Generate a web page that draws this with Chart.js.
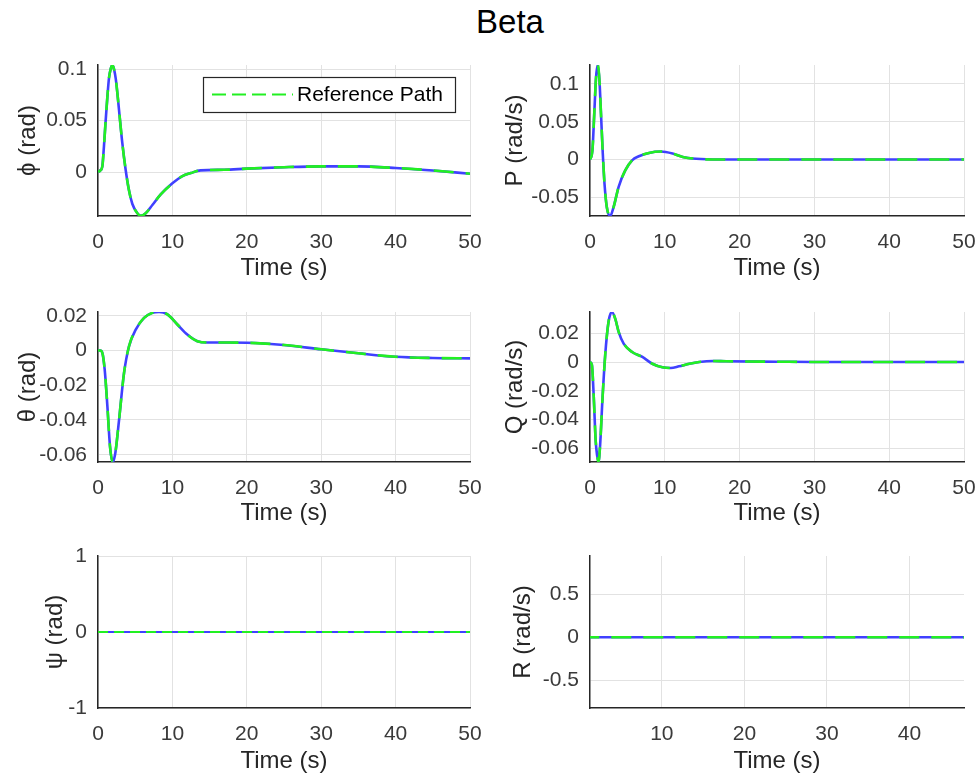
<!DOCTYPE html>
<html>
<head>
<meta charset="utf-8">
<title>Beta</title>
<script src="https://cdn.jsdelivr.net/npm/chart.js@4.4.0/dist/chart.umd.min.js"></script>
<style>
  body { margin: 0; background: #fff; }
  #page { position: relative; width: 980px; height: 780px; overflow: hidden; background: #fff;
          font-family: "Liberation Sans", Arial, sans-serif; }
  #title { position: absolute; left: 0; width: 1020px; top: 3px; text-align: center;
           font-size: 33px; color: #000; }
  canvas { position: absolute; }
</style>
</head>
<body>
<div id="page">
  <div id="title">Beta</div>
  <canvas id="phiChart"></canvas>
  <canvas id="pChart"></canvas>
  <canvas id="thetaChart"></canvas>
  <canvas id="qChart"></canvas>
  <canvas id="psiChart"></canvas>
  <canvas id="rChart"></canvas>
</div>
<script>
// --- data ---
const legendLabel = "Reference Path";
const timeTitle = "Time (s)";

const tPhi = [0, 0.3, 0.58, 0.8, 1.03, 1.25, 1.48, 1.7, 1.93, 2.15, 2.38, 2.6, 2.83, 3.27, 3.72, 4.17, 4.62, 5.29, 5.74, 6.41, 7.31, 8.43, 10, 11.35, 12.47, 13.8, 16.95, 20, 25, 30, 35, 40, 45, 50];
const phiRad = [0, 0.0015, 0.0054, 0.025, 0.05, 0.072, 0.0914, 0.1, 0.104, 0.1, 0.091, 0.077, 0.06, 0.028, 0.002, -0.018, -0.031, -0.04, -0.0425, -0.04, -0.032, -0.0217, -0.011, -0.004, -0.001, 0.0016, 0.0022, 0.0033, 0.0047, 0.0055, 0.0055, 0.004, 0.0015, -0.0016];

const tP = [0, 0.32, 0.59, 0.81, 1.04, 1.26, 1.49, 1.71, 1.94, 2.25, 2.7, 3.15, 3.83, 4.73, 5.63, 6.53, 7.88, 9.46, 11.04, 12.4, 14.2, 17.3, 20, 30, 40, 50];
const pRadS = [0, 0.012, 0.065, 0.109, 0.125, 0.105, 0.056, 0.008, -0.032, -0.063, -0.0746, -0.063, -0.036, -0.014, -0.001, 0.0044, 0.0088, 0.0106, 0.008, 0.0035, 0.001, 0, 0, 0, 0, 0];

const tTheta = [0, 0.3, 0.58, 0.9, 1.26, 1.61, 1.97, 2.33, 2.83, 3.5, 4.17, 5.07, 6.19, 7.31, 8.2, 9.33, 10.67, 12, 13.36, 14.7, 17.4, 20, 25, 30, 35, 40, 45, 50];
const thetaRad = [0, 0, -0.0013, -0.011, -0.032, -0.055, -0.0642, -0.059, -0.04, -0.0129, 0.0025, 0.012, 0.0188, 0.0217, 0.0222, 0.0208, 0.015, 0.0092, 0.0054, 0.0046, 0.0046, 0.0045, 0.0032, 0.0007, -0.0016, -0.0036, -0.0043, -0.0045];

const tQ = [0, 0.25, 0.5, 0.75, 0.95, 1.13, 1.35, 1.67, 2.03, 2.48, 2.93, 3.38, 3.83, 4.5, 5.63, 7, 8.33, 9.68, 10.8, 11.9, 13.3, 14.6, 16.4, 18.2, 25, 30, 40, 50];
const qRadS = [0, -0.002, -0.024, -0.054, -0.065, -0.0696, -0.058, -0.0256, 0.0047, 0.028, 0.0348, 0.03, 0.021, 0.0128, 0.007, 0.0035, -0.0012, -0.0037, -0.0042, -0.003, -0.0012, 0, 0.0007, 0.0005, 0.0002, 0, 0, 0];

const tPsi = [0, 10, 20, 30, 40, 50];
const psiRad = [0, 0, 0, 0, 0, 0];
const tR = [0, 10, 20, 30, 40, 50];
const rRadS = [0, 0, 0, 0, 0, 0];

const timeTicks = [0, 10, 20, 30, 40, 50];
const rTimeTicks = [10, 20, 30, 40];
const timeRange = [0, 50];
const rTimeRange = [1.3, 46.6];

const phiTicks = [0, 0.05, 0.1];
const pTicks = [-0.05, 0, 0.05, 0.1];
const thetaTicks = [-0.06, -0.04, -0.02, 0, 0.02];
const qTicks = [-0.06, -0.04, -0.02, 0, 0.02];
const psiTicks = [-1, 0, 1];
const rTicks = [-0.5, 0, 0.5];

const phiRange = [-0.0427, 0.104];
const pRange = [-0.0746, 0.125];
const thetaRange = [-0.0642, 0.0222];
const qRange = [-0.0696, 0.0348];
const psiRange = [-1, 1];
const rRange = [-0.82, 0.94];

// --- look ---
const blue = "#4040ff";
const green = "#22f022";
const axisColor = "#262626";
const tickColor = "#3a3a3a";
const gridColor = "#e2e2e2";
const fontFamily = "'Liberation Sans', Arial, sans-serif";

// layout of the 3x2 grid (page pixels)
const rows = [
  { top: 45, height: 245, areaTop: 65, areaBottom: 216, titlePad: 7.6 },
  { top: 292, height: 245, areaTop: 312, areaBottom: 462, titlePad: 9.6 },
  { top: 536, height: 244, areaTop: 556, areaBottom: 708, titlePad: 4 }
];
const cols = [
  { left: 0, width: 490, areaLeft: 98, areaRight: 470 },
  { left: 490, width: 490, areaLeft: 590, areaRight: 964 }
];

const fmt = (v) => String(+v.toFixed(4));

// legend drawn inside the phi axes, like the matlab one
const legendBox = {
  id: "legendBox",
  afterDraw(chart) {
    const ctx = chart.ctx;
    const ds = chart.data.datasets[0];
    const w = 252, h = 35;
    const x = chart.chartArea.right - 15 - w;
    const y = chart.chartArea.top + 12;
    ctx.save();
    ctx.fillStyle = "#fff";
    ctx.fillRect(x, y, w, h);
    ctx.strokeStyle = axisColor;
    ctx.lineWidth = 1.2;
    ctx.strokeRect(x + 0.5, y + 0.5, w, h);
    ctx.strokeStyle = ds.borderColor;
    ctx.lineWidth = 2;
    ctx.setLineDash([14, 6]);
    ctx.beginPath();
    ctx.moveTo(x + 9, y + h / 2);
    ctx.lineTo(x + 90, y + h / 2);
    ctx.stroke();
    ctx.setLineDash([]);
    ctx.fillStyle = "#000";
    ctx.font = "21px " + fontFamily;
    ctx.textBaseline = "middle";
    ctx.fillText(ds.label, x + 94, y + h / 2 + 1);
    ctx.restore();
  }
};

function panel(cfg) {
  const row = rows[cfg.row], col = cols[cfg.col];
  const canvas = document.getElementById(cfg.id);
  canvas.width = col.width;
  canvas.height = row.height;
  canvas.style.left = col.left + "px";
  canvas.style.top = row.top + "px";

  const pts = cfg.t.map((t, i) => ({ x: t, y: cfg.y[i] }));
  const lw = cfg.thin ? 2 : 2.6;
  const dash = cfg.thin ? [10, 6] : [20, 12];

  return new Chart(canvas, {
    type: "line",
    data: {
      datasets: [
        { label: legendLabel, data: pts, borderColor: green, borderWidth: lw, borderDash: dash,
          pointRadius: 0, cubicInterpolationMode: "monotone", fill: false },
        { label: "", data: pts, borderColor: blue, borderWidth: lw,
          pointRadius: 0, cubicInterpolationMode: "monotone", fill: false }
      ]
    },
    options: {
      responsive: false,
      animation: false,
      layout: { padding: { top: row.areaTop - row.top, right: col.left + col.width - col.areaRight, left: 0, bottom: 0 } },
      plugins: { legend: { display: false }, tooltip: { enabled: false } },
      scales: {
        x: {
          type: "linear",
          min: cfg.xRange[0], max: cfg.xRange[1],
          afterBuildTicks: (s) => { s.ticks = cfg.xTicks.map((v) => ({ value: v })); },
          afterFit: (s) => {
            s.height = row.top + row.height - row.areaBottom;
            s.paddingLeft = 0; s.paddingRight = 0;
          },
          grid: { color: gridColor, drawTicks: false },
          border: { color: axisColor, width: 1.5 },
          ticks: { color: tickColor, padding: 13.4, maxRotation: 0, autoSkip: false,
                   font: { family: fontFamily, size: 21 }, callback: fmt },
          title: { display: true, text: timeTitle, color: axisColor,
                   font: { family: fontFamily, size: 24 }, padding: { top: 0, bottom: row.titlePad } }
        },
        y: {
          min: cfg.yRange[0], max: cfg.yRange[1],
          afterBuildTicks: (s) => { s.ticks = cfg.yTicks.map((v) => ({ value: v })); },
          afterFit: (s) => {
            s.width = col.areaLeft - col.left;
            s.paddingTop = 0; s.paddingBottom = 0;
          },
          grid: { color: gridColor, drawTicks: false },
          border: { color: axisColor, width: 1.5 },
          ticks: { color: tickColor, padding: 11, autoSkip: false,
                   font: { family: fontFamily, size: 21 }, callback: fmt },
          title: { display: true, text: cfg.yTitle, color: axisColor,
                   font: { family: fontFamily, size: 24 }, padding: { top: cfg.yTitleX - 14.4, bottom: 0 } }
        }
      }
    },
    plugins: cfg.legend ? [legendBox] : []
  });
}

panel({ id: "phiChart", row: 0, col: 0, t: tPhi, y: phiRad, xRange: timeRange, xTicks: timeTicks,
        yRange: phiRange, yTicks: phiTicks, yTitle: "\u03d5 (rad)", yTitleX: 28, legend: true });
panel({ id: "pChart", row: 0, col: 1, t: tP, y: pRadS, xRange: timeRange, xTicks: timeTicks,
        yRange: pRange, yTicks: pTicks, yTitle: "P (rad/s)", yTitleX: 25 });
panel({ id: "thetaChart", row: 1, col: 0, t: tTheta, y: thetaRad, xRange: timeRange, xTicks: timeTicks,
        yRange: thetaRange, yTicks: thetaTicks, yTitle: "\u03b8 (rad)", yTitleX: 28 });
panel({ id: "qChart", row: 1, col: 1, t: tQ, y: qRadS, xRange: timeRange, xTicks: timeTicks,
        yRange: qRange, yTicks: qTicks, yTitle: "Q (rad/s)", yTitleX: 25 });
panel({ id: "psiChart", row: 2, col: 0, t: tPsi, y: psiRad, xRange: timeRange, xTicks: timeTicks,
        yRange: psiRange, yTicks: psiTicks, yTitle: "\u03c8 (rad)", yTitleX: 55, thin: true });
panel({ id: "rChart", row: 2, col: 1, t: tR, y: rRadS, xRange: rTimeRange, xTicks: rTimeTicks,
        yRange: rRange, yTicks: rTicks, yTitle: "R (rad/s)", yTitleX: 33 });
</script>
</body>
</html>
